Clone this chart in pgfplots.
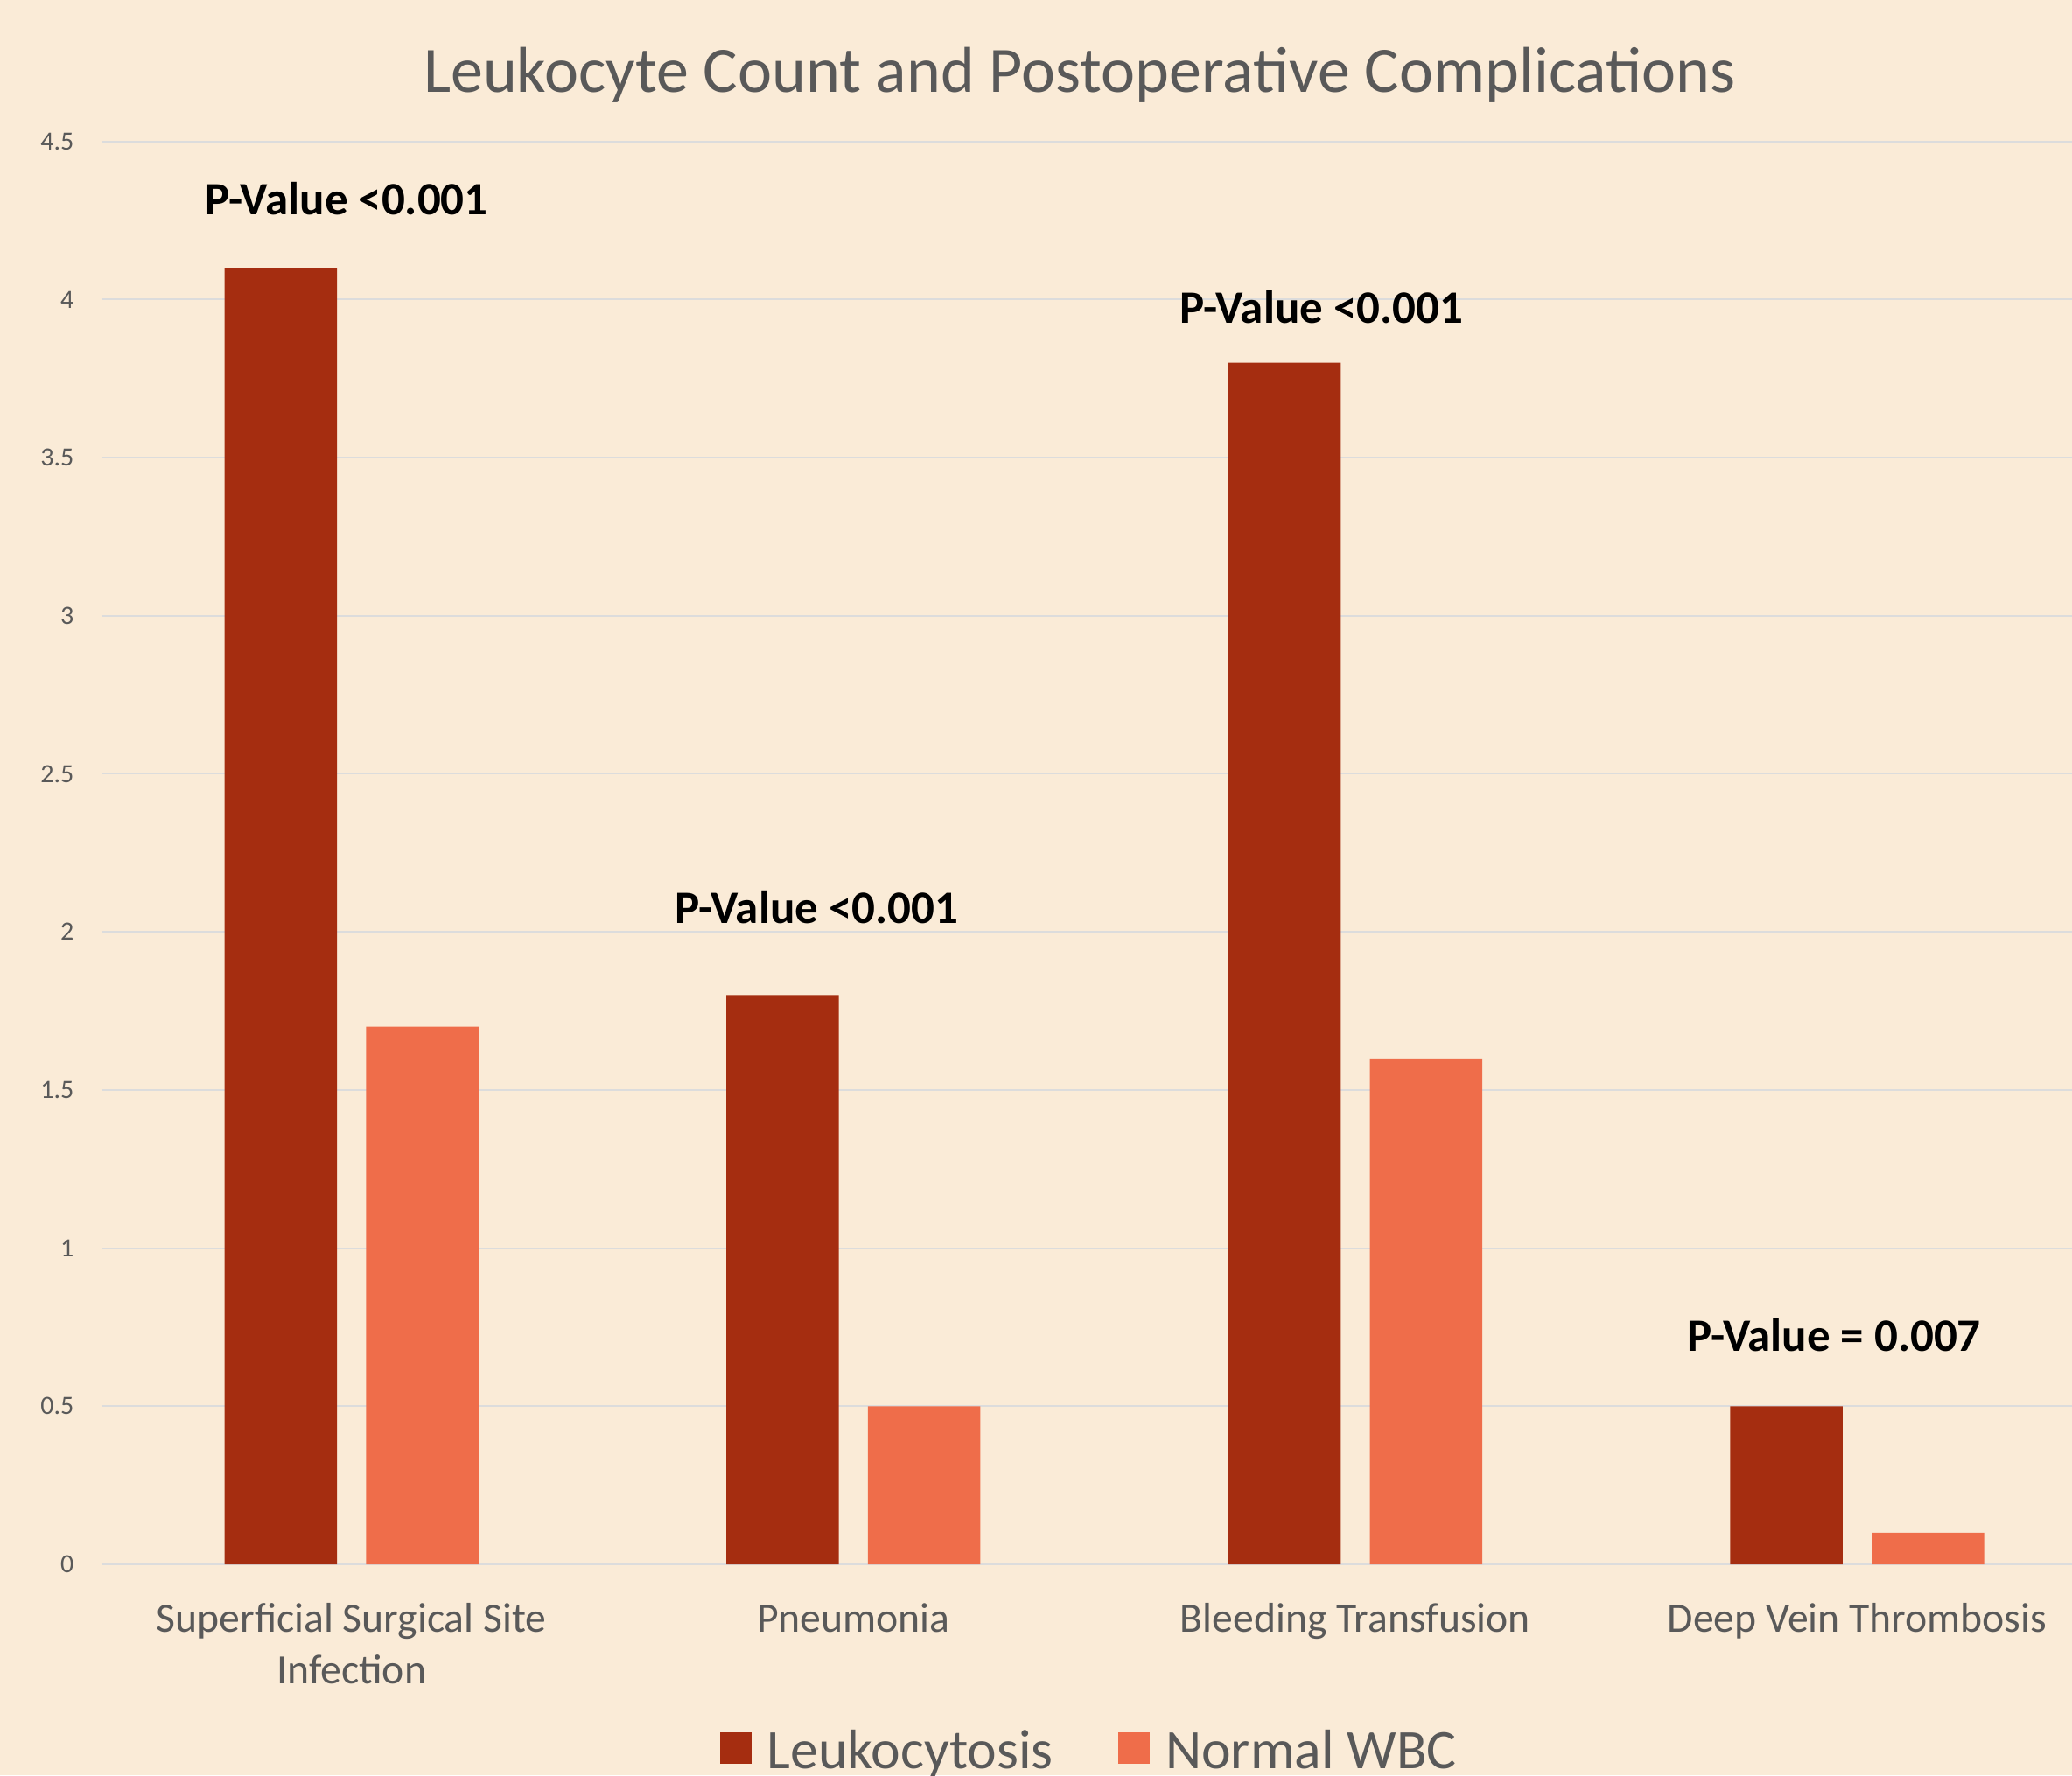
\documentclass[border=0pt]{standalone}
\usepackage{fontspec}
\setmainfont{Carlito}
\usepackage{pgfplots}
\pgfplotsset{compat=1.18}
\definecolor{bg}{HTML}{FAEBD7}
\definecolor{darkbar}{HTML}{A52D10}
\definecolor{lightbar}{HTML}{EF6D4A}
\definecolor{txt}{HTML}{595959}
\definecolor{gridc}{HTML}{DCDCDC}
\begin{document}
\begin{tikzpicture}
\fill[bg] (-34.8pt,-72.3pt) rectangle (675.6pt,536.4pt);
\begin{axis}[
  at={(0pt,0pt)}, anchor=south west,
  scale only axis, width=675.6pt, height=487.9pt,
  xmin=-0.498, xmax=3.428, ymin=0, ymax=4.5,
  axis line style={draw=none},
  major tick length=0pt,
  clip=false,
  ytick={0,0.5,1,1.5,2,2.5,3,3.5,4,4.5},
  yticklabels={0,0.5,1,1.5,2,2.5,3,3.5,4,4.5},
  ymajorgrids, grid style={gridc, line width=0.6pt},
  xtick={0,1,2,3},
  xticklabels={{\rule{0pt}{11pt}Superficial Surgical Site\\Infection},{\rule{0pt}{11pt}Pneumonia},{\rule{0pt}{11pt}Bleeding Transfusion},{\rule{0pt}{11pt}Deep Vein Thrombosis}},
  yticklabel style={font=\fontsize{9}{11}\selectfont, text=txt, inner sep=0pt, anchor=east, xshift=-9.3pt},
  xticklabel style={font=\fontsize{14.3}{17.7}\selectfont, text=txt, inner sep=0pt, anchor=north, align=center, yshift=-12.1pt},
  /pgf/number format/assume math mode=true,
  legend columns=2,
  legend image code/.code={\fill[#1] (0pt,-4.25pt) rectangle (10.9pt,6.65pt);},
  legend style={at={(axis description cs:0.5007,-0.1314)}, anchor=center, draw=none, fill=none,
    font=\fontsize{19.1}{23}\selectfont, text=txt, inner sep=0pt,
    nodes={inner sep=0pt},
    /tikz/every odd column/.append style={column sep=5.4pt},
    /tikz/every even column/.append style={column sep=22.2pt}},
]
\addplot[ybar, bar width=0.224, bar shift=-0.141, fill=darkbar, draw=none] coordinates {(0,4.1) (1,1.8) (2,3.8) (3,0.5)};
\addlegendentry{Leukocytosis}
\addplot[ybar, bar width=0.224, bar shift=0.141, fill=lightbar, draw=none] coordinates {(0,1.7) (1,0.5) (2,1.6) (3,0.1)};
\addlegendentry{Normal WBC}
\node[font=\fontsize{15.9}{19}\selectfont\bfseries, anchor=base] at (axis cs:-0.01,4.267) {P-Value <0.001};
\node[font=\fontsize{15.9}{19}\selectfont\bfseries, anchor=base] at (axis cs:0.927,2.027) {P-Value <0.001};
\node[font=\fontsize{15.9}{19}\selectfont\bfseries, anchor=base] at (axis cs:1.933,3.924) {P-Value <0.001};
\node[font=\fontsize{15.9}{19}\selectfont\bfseries, anchor=base] at (axis cs:2.954,0.673) {P-Value = 0.007};
\end{axis}
\node[font=\fontsize{22.2}{26}\selectfont, text=txt, anchor=base] at (335.4pt,504.7pt) {Leukocyte Count and Postoperative Complications};
\pgfresetboundingbox
\path (-34.8pt,-72.3pt) rectangle (675.6pt,536.4pt);
\end{tikzpicture}
\end{document}
